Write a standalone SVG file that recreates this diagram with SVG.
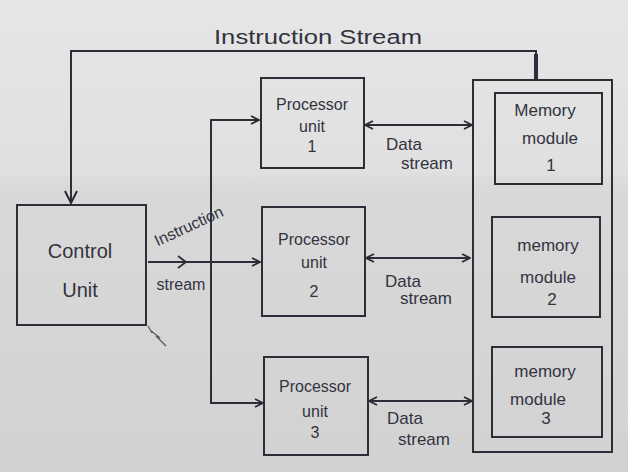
<svg xmlns="http://www.w3.org/2000/svg" width="628" height="472" viewBox="0 0 628 472">
<defs>
<linearGradient id="paper" x1="0" y1="0" x2="0" y2="1">
<stop offset="0" stop-color="#e6e6e6"/>
<stop offset="0.36" stop-color="#e0e0e0"/>
<stop offset="0.40" stop-color="#d9d9d9"/>
<stop offset="1" stop-color="#d2d2d3"/>
</linearGradient>
<marker id="ah" viewBox="0 0 10 10" refX="9" refY="5" markerWidth="10" markerHeight="10" markerUnits="userSpaceOnUse" orient="auto-start-reverse">
<path d="M1,1 L9,5 L1,9" fill="none" stroke="#2a2a33" stroke-width="1.8"/>
</marker>
<marker id="ahbig" viewBox="0 0 14 14" refX="13" refY="7" markerWidth="14" markerHeight="14" markerUnits="userSpaceOnUse" orient="auto-start-reverse">
<path d="M1,1 L13,7 L1,13" fill="none" stroke="#2a2a33" stroke-width="2"/>
</marker>
</defs>
<style>
.box{fill:none;stroke:#2e2e38;stroke-width:2}
.ln{fill:none;stroke:#2e2e38;stroke-width:2}
.t{font-family:"Liberation Sans","DejaVu Sans",sans-serif;fill:#33333f;text-anchor:middle}
.s16{font-size:16px}
.s17{font-size:17px}
.s20{font-size:20px}
</style>
<rect x="0" y="0" width="628" height="472" fill="url(#paper)"/>

<g id="connectors">
<polyline class="ln" points="536,80 536,51 71,51 71,203" marker-end="url(#ahbig)"/>
<line x1="536" y1="54" x2="536" y2="80" stroke="#2e2e38" stroke-width="4"/>
<line class="ln" x1="148" y1="262" x2="260" y2="262" marker-end="url(#ah)"/>
<path d="M178,256 L186,262 L178,268" fill="none" stroke="#2e2e38" stroke-width="1.8"/>
<polyline class="ln" points="259,120 211,120 211,403 263,403" marker-start="url(#ah)" marker-end="url(#ah)"/>
<line class="ln" x1="365" y1="125" x2="472" y2="125" marker-start="url(#ah)" marker-end="url(#ah)"/>
<line class="ln" x1="366" y1="258" x2="470" y2="258" marker-start="url(#ah)" marker-end="url(#ah)"/>
<line class="ln" x1="369" y1="401" x2="472" y2="401" marker-start="url(#ah)" marker-end="url(#ah)"/>
<text class="t s20" x="318" y="44" textLength="208" lengthAdjust="spacingAndGlyphs">Instruction Stream</text>
<text class="t s16" x="191" y="231" transform="rotate(-25 191 231)">Instruction</text>
<text class="t s16" x="181" y="290">stream</text>
<text class="t s17" x="404" y="150">Data</text>
<text class="t s17" x="427" y="169">stream</text>
<text class="t s17" x="403" y="287">Data</text>
<text class="t s17" x="426" y="304">stream</text>
<text class="t s17" x="405" y="424">Data</text>
<text class="t s17" x="424" y="445">stream</text>
<path d="M150,330 L160,338 M156,336 L166,346 M148,326 L152,333" stroke="#555" stroke-width="1.2" fill="none"/>
</g>

<g id="control-unit">
<rect class="box" x="17" y="205" width="129" height="120"/>
<text class="t s20" x="80" y="258">Control</text>
<text class="t s20" x="80" y="297">Unit</text>
</g>

<g id="processor-1">
<rect class="box" x="261" y="78" width="103" height="90"/>
<text class="t s16" x="312" y="110">Processor</text>
<text class="t s16" x="312" y="132">unit</text>
<text class="t s16" x="312" y="152">1</text>
</g>

<g id="processor-2">
<rect class="box" x="262" y="207" width="103" height="109"/>
<text class="t s16" x="314" y="245">Processor</text>
<text class="t s16" x="314" y="268">unit</text>
<text class="t s16" x="314" y="297">2</text>
</g>

<g id="processor-3">
<rect class="box" x="264" y="357" width="104" height="98"/>
<text class="t s16" x="315" y="392">Processor</text>
<text class="t s16" x="315" y="417">unit</text>
<text class="t s16" x="315" y="438">3</text>
</g>

<g id="memory-container">
<rect class="box" x="473" y="80" width="139" height="372"/>
</g>

<g id="memory-1">
<rect class="box" x="495" y="93" width="107" height="91"/>
<text class="t s17" x="545" y="116">Memory</text>
<text class="t s17" x="550" y="144">module</text>
<text class="t s17" x="551" y="171">1</text>
</g>

<g id="memory-2">
<rect class="box" x="492" y="217" width="108" height="100"/>
<text class="t s17" x="548" y="251">memory</text>
<text class="t s17" x="548" y="283">module</text>
<text class="t s17" x="552" y="305">2</text>
</g>

<g id="memory-3">
<rect class="box" x="492" y="347" width="110" height="90"/>
<text class="t s17" x="545" y="377">memory</text>
<text class="t s17" x="538" y="405">module</text>
<text class="t s17" x="546" y="424">3</text>
</g>
</svg>
